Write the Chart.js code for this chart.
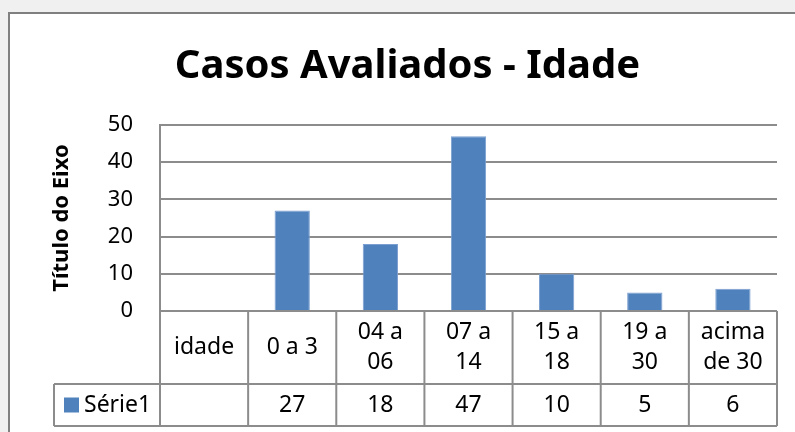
<!DOCTYPE html>
<html>
<head>
<meta charset="utf-8">
<script src="https://cdn.jsdelivr.net/npm/chart.js@4"></script>
<style>
  body { margin: 0; background: #f0f0f0; overflow: hidden; }
  #frame { position: absolute; left: 8px; top: 12px; width: 820px; height: 450px; border: 2px solid #808080; background: #fff; }
  #wrap { position: absolute; left: 0; top: 0; width: 795px; height: 432px; }
</style>
</head>
<body>
<div id="frame"></div>
<div id="wrap"><canvas id="chart"></canvas></div>
<script>
const chartTitle = 'Casos Avaliados - Idade';
const axisTitle = 'Título do Eixo';
const seriesName = 'Série1';
const categories = ['idade', '0 a 3', ['04 a', '06'], ['07 a', '14'], ['15 a', '18'], ['19 a', '30'], ['acima', 'de 30']];
const values = [null, 27, 18, 47, 10, 5, 6];
const yMin = 0, yMax = 50, yStep = 10;

const barColor = '#4f81bd';
const lineGray = '#8c8c8c';
const FONT = '"Noto Sans", "Open Sans", sans-serif';

// data table under the plot, columns follow the x scale
const dataTable = {
  id: 'dataTable',
  afterDraw(chart) {
    const ctx = chart.ctx;
    const xs = chart.scales.x;
    const area = chart.chartArea;
    const step = xs.getPixelForValue(1) - xs.getPixelForValue(0);
    const top = area.bottom, mid = top + 73, bottom = top + 115;
    const keyLeft = 54;
    ctx.save();
    ctx.strokeStyle = lineGray;
    ctx.lineWidth = 2;
    ctx.beginPath();
    ctx.moveTo(keyLeft, mid); ctx.lineTo(area.right, mid);
    ctx.moveTo(keyLeft, bottom); ctx.lineTo(area.right, bottom);
    ctx.moveTo(keyLeft, mid); ctx.lineTo(keyLeft, bottom);
    for (let i = 0; i <= categories.length; i++) {
      const x = xs.getPixelForValue(0) + (i - 0.5) * step;
      ctx.moveTo(x, top); ctx.lineTo(x, bottom);
    }
    ctx.stroke();

    ctx.fillStyle = '#000';
    ctx.font = '23px ' + FONT;
    ctx.textAlign = 'center';
    ctx.textBaseline = 'middle';
    const lh = 30;
    categories.forEach((lab, i) => {
      const lines = Array.isArray(lab) ? lab : [lab];
      const cx = xs.getPixelForValue(i);
      const y0 = (top + mid) / 2 - (lines.length - 1) * lh / 2;
      lines.forEach((t, j) => ctx.fillText(t, cx, y0 + j * lh));
      if (values[i] != null) ctx.fillText(String(values[i]), cx, (mid + bottom) / 2);
    });

    const rowY = (mid + bottom) / 2;
    ctx.fillStyle = barColor;
    ctx.fillRect(keyLeft + 10, rowY - 7.5, 15, 15);
    ctx.fillStyle = '#000';
    ctx.textAlign = 'left';
    ctx.fillText(seriesName, keyLeft + 30, rowY);
    ctx.restore();
  }
};

new Chart(document.getElementById('chart'), {
  type: 'bar',
  data: {
    labels: categories,
    datasets: [{
      label: seriesName,
      data: values,
      backgroundColor: barColor,
      borderColor: '#7b9fd0',
      borderWidth: 1,
      barPercentage: 0.4,
      categoryPercentage: 1
    }]
  },
  options: {
    responsive: true,
    maintainAspectRatio: false,
    animation: false,
    layout: { padding: { left: 38, right: 18, top: 0, bottom: 0 } },
    plugins: {
      legend: { display: false },
      tooltip: { enabled: false },
      title: {
        display: true,
        text: chartTitle,
        color: '#000',
        font: { family: FONT, size: 40, weight: 'bold' },
        padding: { top: 43, bottom: 34 }
      }
    },
    scales: {
      x: {
        ticks: { display: false },
        grid: { display: false },
        border: { display: false },
        afterFit(scale) { scale.height = 121; }
      },
      y: {
        min: yMin,
        max: yMax,
        ticks: { stepSize: yStep, padding: 27, color: '#000', font: { family: FONT, size: 22 } },
        grid: { color: lineGray, lineWidth: 2, drawTicks: false },
        border: { color: lineGray, width: 2 },
        title: {
          display: true,
          text: axisTitle,
          color: '#000',
          font: { family: FONT, size: 22, weight: 'bold' },
          padding: { top: 11, bottom: 0 }
        },
        afterFit(scale) { scale.width = 122; }
      }
    }
  },
  plugins: [dataTable]
});
</script>
</body>
</html>
